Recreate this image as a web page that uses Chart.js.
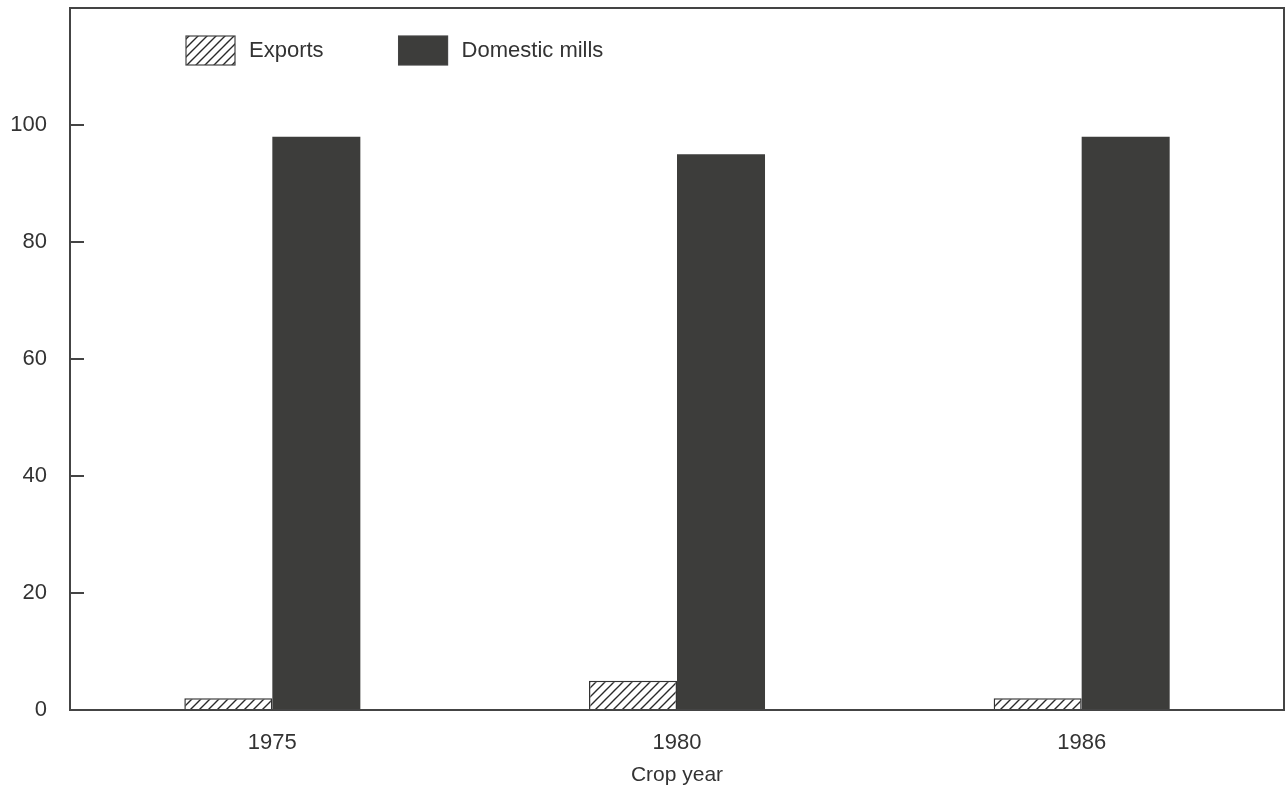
<!DOCTYPE html>
<html>
<head>
<meta charset="utf-8">
<script src="https://cdn.jsdelivr.net/npm/chart.js@4.4.1/dist/chart.umd.min.js"></script>
<style>
  body { margin: 0; background: #fff; }
  canvas { display: block; }
</style>
</head>
<body>
<canvas id="cropChart" width="1286" height="788"></canvas>
<script>
// data (percent of crop)
const years = ['1975', '1980', '1986'];
const exportsShare = [2, 5, 2];
const domesticShare = [98, 95, 98];
const seriesNames = ['Exports', 'Domestic mills'];
const yTicks = [0, 20, 40, 60, 80, 100];

const ink = '#333';
const fontFamily = '"Liberation Sans", Arial, sans-serif';

// diagonal hatch for the exports bars
function makeHatch() {
    const size = 9;
    const c = document.createElement('canvas');
    c.width = size; c.height = size;
    const g = c.getContext('2d');
    g.fillStyle = '#fff';
    g.fillRect(0, 0, size, size);
    g.strokeStyle = '#2a2a2a';
    g.lineWidth = 1.4;
    g.beginPath();
    g.moveTo(-1, size + 1); g.lineTo(size + 1, -1);
    g.moveTo(-1, 1); g.lineTo(1, -1);
    g.moveTo(size - 1, size + 1); g.lineTo(size + 1, size - 1);
    g.stroke();
    return g.createPattern(c, 'repeat');
}

const ctx = document.getElementById('cropChart').getContext('2d');
const hatch = makeHatch();
const darkFill = '#3d3d3b';

// frame, inward y ticks and the legend inside the plot
const framePlugin = {
    id: 'frame',
    afterDraw(chart) {
        const a = chart.chartArea;
        const g = chart.ctx;
        const y = chart.scales.y;
        g.save();
        g.strokeStyle = '#444';
        g.lineWidth = 2;
        g.strokeRect(a.left, a.top, a.right - a.left, a.bottom - a.top);
        g.beginPath();
        yTicks.forEach(v => {
            const py = y.getPixelForValue(v);
            g.moveTo(a.left, py);
            g.lineTo(a.left + 14, py);
        });
        g.stroke();

        // legend
        g.font = '22px ' + fontFamily;
        g.textBaseline = 'middle';
        let x = a.left + 116;
        const top = a.top + 28;
        chart.data.datasets.forEach(ds => {
            g.fillStyle = ds.backgroundColor;
            g.fillRect(x, top, 49, 29);
            g.lineWidth = 1.2;
            g.strokeStyle = '#444';
            g.strokeRect(x, top, 49, 29);
            g.fillStyle = ink;
            g.fillText(ds.label, x + 63, top + 15);
            x += 63 + g.measureText(ds.label).width + 75;
        });
        g.restore();
    }
};

new Chart(ctx, {
    type: 'bar',
    data: {
        labels: years,
        datasets: [
            {
                label: seriesNames[0],
                data: exportsShare,
                backgroundColor: hatch,
                borderColor: '#333',
                borderWidth: 1.5
            },
            {
                label: seriesNames[1],
                data: domesticShare,
                backgroundColor: darkFill,
                borderWidth: 0
            }
        ]
    },
    options: {
        responsive: false,
        animation: false,
        categoryPercentage: 0.435,
        barPercentage: 1,
        layout: { padding: { left: 8, right: 2, top: 8, bottom: 0 } },
        plugins: {
            legend: { display: false },
            tooltip: { enabled: false }
        },
        scales: {
            x: {
                grid: { drawOnChartArea: false, drawTicks: false },
                border: { color: '#444', width: 2 },
                ticks: { color: ink, padding: 20, font: { family: fontFamily, size: 22 } },
                title: {
                    display: true,
                    text: 'Crop year',
                    color: ink,
                    padding: { top: 2, bottom: 0 },
                    font: { family: fontFamily, size: 21 }
                },
                afterFit(scale) {
                    scale.height = 78;
                    scale.paddingLeft = 0;
                    scale.paddingRight = 0;
                }
            },
            y: {
                min: 0,
                max: 120,
                grid: { drawOnChartArea: false, drawTicks: false },
                border: { color: '#444', width: 2 },
                ticks: {
                    stepSize: 20,
                    color: ink,
                    padding: 23,
                    font: { family: fontFamily, size: 22 },
                    callback: v => (yTicks.includes(v) ? v : '')
                },
                afterFit(scale) {
                    scale.width = 62;
                    scale.paddingTop = 0;
                    scale.paddingBottom = 0;
                }
            }
        }
    },
    plugins: [framePlugin]
});
</script>
</body>
</html>
